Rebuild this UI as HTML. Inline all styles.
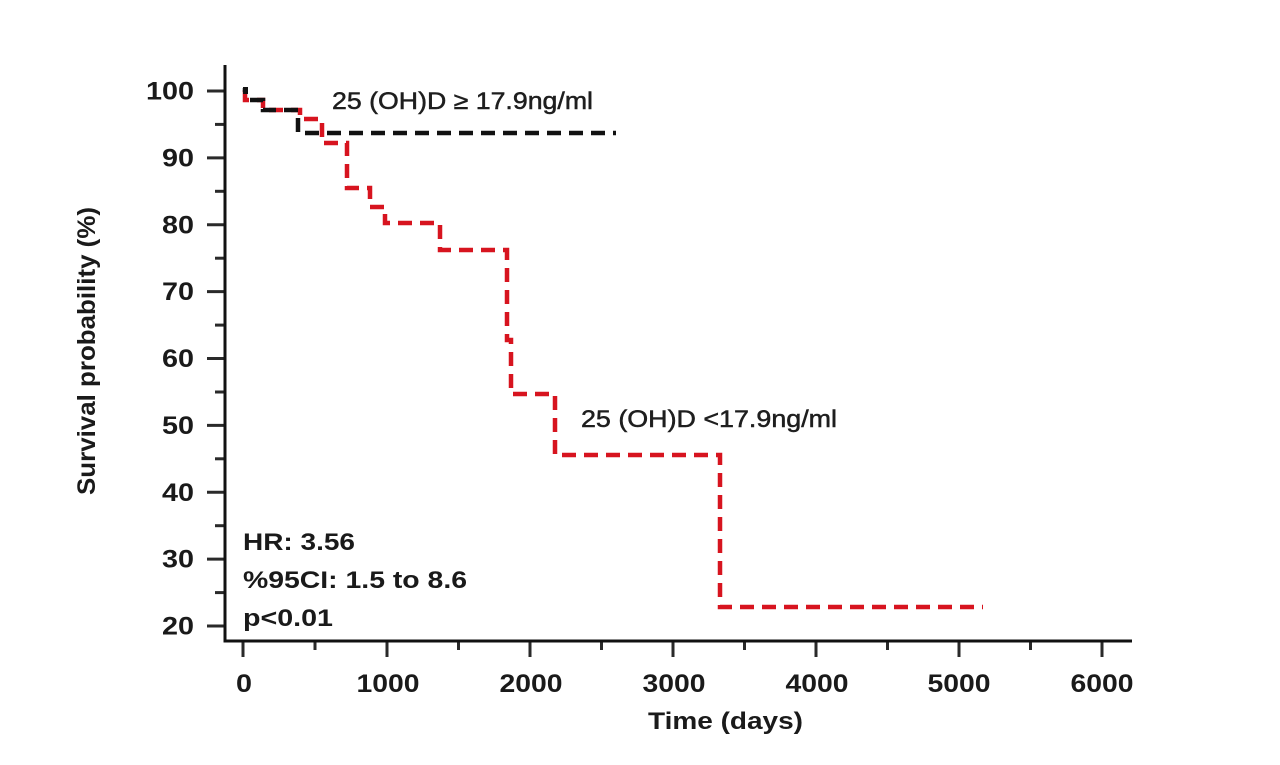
<!DOCTYPE html>
<html>
<head>
<meta charset="utf-8">
<style>
  html, body { margin:0; padding:0; background:#ffffff; }
  svg { display:block; }
  .tick { font-family:"Liberation Sans", Arial, sans-serif; font-weight:bold; font-size:25px; fill:#1a1a1a; }
  .ann { font-family:"Liberation Sans", Arial, sans-serif; font-size:24px; fill:#1e1e1e; stroke:#1e1e1e; stroke-width:0.5px; }
  .annb { font-family:"Liberation Sans", Arial, sans-serif; font-weight:bold; font-size:24px; fill:#1a1a1a; }
</style>
</head>
<body>
<svg width="1280" height="765" viewBox="0 0 1280 765" xmlns="http://www.w3.org/2000/svg">
  <rect width="1280" height="765" fill="#ffffff"/>

  <!-- Y ticks -->
  <g stroke="#2a2a2a" stroke-width="3">
    <line x1="207" y1="91" x2="225" y2="91"/>
    <line x1="207" y1="157.9" x2="225" y2="157.9"/>
    <line x1="207" y1="224.8" x2="225" y2="224.8"/>
    <line x1="207" y1="291.6" x2="225" y2="291.6"/>
    <line x1="207" y1="358.5" x2="225" y2="358.5"/>
    <line x1="207" y1="425.4" x2="225" y2="425.4"/>
    <line x1="207" y1="492.3" x2="225" y2="492.3"/>
    <line x1="207" y1="559.1" x2="225" y2="559.1"/>
    <line x1="207" y1="626" x2="225" y2="626"/>
    <line x1="215" y1="124.4" x2="225" y2="124.4"/>
    <line x1="215" y1="191.3" x2="225" y2="191.3"/>
    <line x1="215" y1="258.2" x2="225" y2="258.2"/>
    <line x1="215" y1="325.1" x2="225" y2="325.1"/>
    <line x1="215" y1="392" x2="225" y2="392"/>
    <line x1="215" y1="458.8" x2="225" y2="458.8"/>
    <line x1="215" y1="525.7" x2="225" y2="525.7"/>
    <line x1="215" y1="592.6" x2="225" y2="592.6"/>
  </g>

  <!-- X ticks -->
  <g stroke="#2a2a2a" stroke-width="3">
    <line x1="243" y1="641" x2="243" y2="657"/>
    <line x1="387" y1="641" x2="387" y2="657"/>
    <line x1="530" y1="641" x2="530" y2="657"/>
    <line x1="673" y1="641" x2="673" y2="657"/>
    <line x1="816" y1="641" x2="816" y2="657"/>
    <line x1="959" y1="641" x2="959" y2="657"/>
    <line x1="1102" y1="641" x2="1102" y2="657"/>
    <line x1="315" y1="641" x2="315" y2="650"/>
    <line x1="458.5" y1="641" x2="458.5" y2="650"/>
    <line x1="601.5" y1="641" x2="601.5" y2="650"/>
    <line x1="744.5" y1="641" x2="744.5" y2="650"/>
    <line x1="887.5" y1="641" x2="887.5" y2="650"/>
    <line x1="1030.5" y1="641" x2="1030.5" y2="650"/>
  </g>

  <!-- Axes -->
  <line x1="225" y1="65" x2="225" y2="642.5" stroke="#111" stroke-width="3"/>
  <line x1="223.5" y1="641" x2="1132" y2="641" stroke="#111" stroke-width="3"/>

  <!-- Y tick labels -->
  <g class="tick" text-anchor="end">
    <text x="194" y="99.5" textLength="48" lengthAdjust="spacingAndGlyphs">100</text>
    <text x="194" y="166.4" textLength="32" lengthAdjust="spacingAndGlyphs">90</text>
    <text x="194" y="233.3" textLength="32" lengthAdjust="spacingAndGlyphs">80</text>
    <text x="194" y="300.1" textLength="32" lengthAdjust="spacingAndGlyphs">70</text>
    <text x="194" y="367" textLength="32" lengthAdjust="spacingAndGlyphs">60</text>
    <text x="194" y="433.9" textLength="32" lengthAdjust="spacingAndGlyphs">50</text>
    <text x="194" y="500.8" textLength="32" lengthAdjust="spacingAndGlyphs">40</text>
    <text x="194" y="567.6" textLength="32" lengthAdjust="spacingAndGlyphs">30</text>
    <text x="194" y="634.5" textLength="32" lengthAdjust="spacingAndGlyphs">20</text>
  </g>

  <!-- X tick labels -->
  <g class="tick" text-anchor="middle">
    <text x="244" y="692" textLength="16" lengthAdjust="spacingAndGlyphs">0</text>
    <text x="388" y="692" textLength="63" lengthAdjust="spacingAndGlyphs">1000</text>
    <text x="531" y="692" textLength="63" lengthAdjust="spacingAndGlyphs">2000</text>
    <text x="674" y="692" textLength="63" lengthAdjust="spacingAndGlyphs">3000</text>
    <text x="817" y="692" textLength="63" lengthAdjust="spacingAndGlyphs">4000</text>
    <text x="959" y="692" textLength="63" lengthAdjust="spacingAndGlyphs">5000</text>
    <text x="1102" y="692" textLength="63" lengthAdjust="spacingAndGlyphs">6000</text>
  </g>

  <!-- Axis titles -->
  <text x="648" y="729" class="annb" font-size="23" textLength="155" lengthAdjust="spacingAndGlyphs">Time (days)</text>
  <text transform="translate(95,495) rotate(-90)" class="tick" font-size="26" textLength="288" lengthAdjust="spacingAndGlyphs">Survival probability (%)</text>

  <!-- Red curve (< 17.9) -->
  <path d="M245,90 V100 H263 V110 H300 V119 H322 V143 H347 V188 H370 V207 H385 V223 H440 V250 H507 V340 H511 V394 H555 V455 H720 V607 H983"
        fill="none" stroke="#d7141f" stroke-width="4.5" stroke-dasharray="14 8"/>

  <!-- Black curve (>= 17.9) -->
  <path d="M245,88 V92 M250,100 H263 V110 H298 V133 H616"
        fill="none" stroke="#111" stroke-width="4.5" stroke-dasharray="14 8"/>
  <rect x="243" y="87" width="5" height="7" fill="#111"/>

  <!-- Annotations -->
  <text x="332" y="109" class="ann" textLength="261" lengthAdjust="spacingAndGlyphs">25 (OH)D ≥ 17.9ng/ml</text>
  <text x="581" y="427" class="ann" textLength="256" lengthAdjust="spacingAndGlyphs">25 (OH)D &lt;17.9ng/ml</text>

  <text x="243" y="550" class="annb" textLength="112" lengthAdjust="spacingAndGlyphs">HR: 3.56</text>
  <text x="243" y="588" class="annb" textLength="224" lengthAdjust="spacingAndGlyphs">%95CI: 1.5 to 8.6</text>
  <text x="243" y="626" class="annb" textLength="90" lengthAdjust="spacingAndGlyphs">p&lt;0.01</text>
</svg>
</body>
</html>
